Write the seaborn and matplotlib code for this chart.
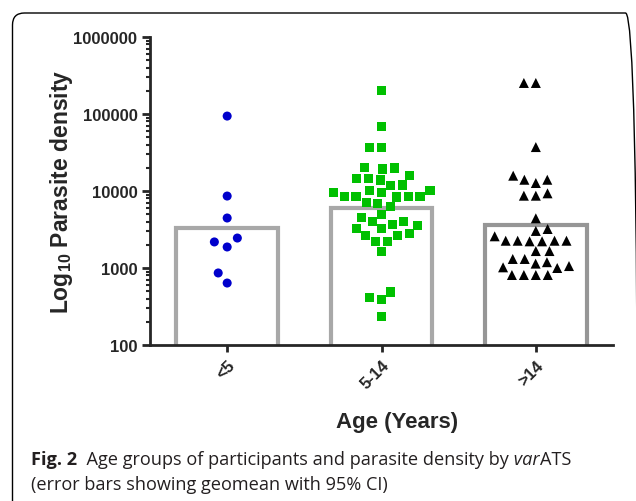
import matplotlib
matplotlib.use("Agg")
import matplotlib.pyplot as plt
import seaborn as sns
from matplotlib.patches import FancyBboxPatch
from matplotlib.transforms import IdentityTransform
from matplotlib.ticker import LogLocator, FuncFormatter, NullFormatter

# values
age_groups = ["<5", "5-14", ">14"]
geomeans = [3300, 5960, 3610]

under5 = [94000, 8600, 4460, 2450, 2180, 1875, 862, 638]
age5_14 = [203000, 69800, 37200, 37200, 20100, 19300, 19900, 13900, 14600,
           14600, 15700, 11970, 11900, 10100, 9600, 9600, 10200, 8530, 8530,
           8360, 8530, 8450, 6920, 6250, 7130, 5020, 4550, 4070, 4070, 3550,
           3300, 3300, 3650, 2630, 2630, 2790, 2240, 2200, 1650, 488, 416,
           392, 236]
over14 = [253000, 253000, 37200, 15800, 14000, 14000, 12700, 9330, 8690,
          8690, 4420, 3210, 3030, 2580, 2260, 2260, 2220, 2220, 2260, 2260,
          1660, 1660, 1310, 1310, 1190, 1060, 1000, 1140, 1020, 811, 811,
          811, 811]

sns.set_style("ticks")
plt.rcParams['font.family'] = ['Liberation Sans', 'DejaVu Sans']
plt.rcParams['mathtext.fontset'] = 'custom'
plt.rcParams['mathtext.rm'] = 'Liberation Sans:bold'
plt.rcParams['mathtext.bf'] = 'Liberation Sans:bold'

fig = plt.figure(figsize=(6.36, 5.02), dpi=100)
ax = fig.add_axes([150 / 636, 156 / 502, 463 / 636, 308 / 502])
ax.set_yscale('log')

sns.barplot(x=age_groups, y=geomeans, order=age_groups, color='white',
            width=0.66, linewidth=3, edgecolor='#a8a8a8', errorbar=None,
            ax=ax, zorder=1)
ax.patches[2].set_edgecolor('#969696')

# group styles: marker, colour, marker size, spacing pad
styles = [('o', '#0000cc', 6.5, 3.0),
          ('s', '#00c000', 6.5, 1.6),
          ('^', 'black', 7.2, 1.0)]
for cat, vals, (mk, col, sz, gap) in zip(age_groups, [under5, age5_14, over14], styles):
    sns.swarmplot(x=[cat] * len(vals), y=vals, order=age_groups, marker=mk,
                  color=col, size=sz, linewidth=gap, edgecolor='none',
                  ax=ax, zorder=3)

ax.set_ylim(100, 1e6)
ax.set_xlim(-0.5, 2.5)
ax.yaxis.set_major_locator(LogLocator(base=10, numticks=10))
ax.yaxis.set_minor_locator(LogLocator(base=10, subs=range(2, 10), numticks=20))
ax.yaxis.set_major_formatter(FuncFormatter(lambda v, _: f"{int(round(v))}"))
ax.yaxis.set_minor_formatter(NullFormatter())

for s in ['top', 'right']:
    ax.spines[s].set_visible(False)
for s in ['left', 'bottom']:
    ax.spines[s].set_linewidth(2)
ax.tick_params(axis='y', which='major', length=6, width=2, labelsize=12, pad=3)
ax.tick_params(axis='y', which='minor', length=3, width=1.5)
ax.tick_params(axis='x', length=5, width=2, labelsize=12, pad=4)
for lab in ax.get_yticklabels():
    lab.set_fontweight('bold')
ax.set_xticks(range(len(age_groups)))
ax.set_xticklabels(age_groups, rotation=45, ha='right', rotation_mode='anchor',
                   fontweight='bold')

ax.set_xlabel('Age (Years)', fontsize=16, fontweight='bold')
ax.xaxis.set_label_coords(0.533, -0.215)
ax.set_ylabel(r'Log$_{10}$ Parasite density', fontsize=16.5, fontweight='bold')
ax.yaxis.set_label_coords(-0.162, 0.5)

# rounded frame around figure + caption
frame = FancyBboxPatch((12.5, -30), 625, 518, boxstyle="round,pad=0,rounding_size=12",
                       transform=IdentityTransform(), facecolor='none',
                       edgecolor='black', linewidth=1.0)
fig.patches.append(frame)

# caption
cap_color = '#231f20'
cap_font = ['Open Sans', 'DejaVu Sans']
cap_size = 13.1
renderer = fig.canvas.get_renderer()
pieces = [("Fig. 2", 'bold', 'normal'),
          ("  Age groups of participants and parasite density by", 'normal', 'normal'),
          (" var", 'normal', 'italic'),
          ("ATS", 'normal', 'normal')]
x = 31 / 636
for txt, w, st in pieces:
    t = fig.text(x, 37 / 502, txt, fontsize=cap_size, fontweight=w, fontstyle=st,
                 family=cap_font, color=cap_color, va='baseline', ha='left')
    x = t.get_window_extent(renderer).x1 / 636
fig.text(31 / 636, 12 / 502, "(error bars showing geomean with 95% CI)",
         fontsize=cap_size, family=cap_font, color=cap_color,
         va='baseline', ha='left')

fig.savefig('out.png', dpi=100)
